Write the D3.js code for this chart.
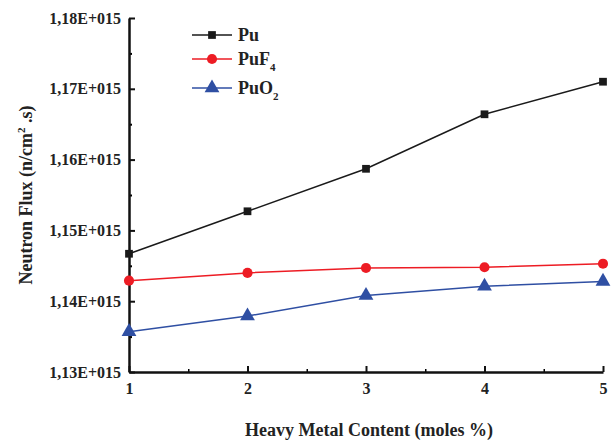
<!DOCTYPE html>
<html>
<head>
<meta charset="utf-8">
<script src="https://cdn.jsdelivr.net/npm/d3@7"></script>
<style>
  body { margin: 0; background: #fff; }
  text { font-family: "Liberation Serif", "Times New Roman", serif; font-weight: bold; }
</style>
</head>
<body>
<div id="chart"></div>
<script>
var contents = [1, 2, 3, 4, 5];
var puFlux   = [1.1467e15, 1.1527e15, 1.1587e15, 1.1664e15, 1.1710e15];
var puf4Flux = [1.1429e15, 1.1440e15, 1.1447e15, 1.1448e15, 1.1453e15];
var puo2Flux = [1.1357e15, 1.1379e15, 1.1408e15, 1.1421e15, 1.1428e15];
var yTicks = [1.13e15, 1.14e15, 1.15e15, 1.16e15, 1.17e15, 1.18e15];

var series = [
  {name: 'Pu', sub: '', values: puFlux, color: '#1a1a1a', symbol: d3.symbolSquare, size: 60},
  {name: 'PuF', sub: '4', values: puf4Flux, color: '#ed1c24', symbol: d3.symbolCircle, size: 80},
  {name: 'PuO', sub: '2', values: puo2Flux, color: '#2f4fa3', symbol: d3.symbolTriangle, size: 95}
];

var width = 614;
var height = 441;

var svg = d3.select('#chart')
            .append('svg')
            .attr('width', width)
            .attr('height', height);

var x = d3.scaleLinear().domain([1, 5]).range([129, 603]);
var y = d3.scaleLinear().domain([1.13e15, 1.18e15]).range([372, 18]);

function fmt(v) {
  return (v / 1e15).toFixed(2).replace('.', ',') + 'E+015';
}

// minor ticks
svg.append('g')
   .attr('transform', 'translate(129,0)')
   .call(d3.axisLeft(y).tickValues(d3.range(1.135e15, 1.18e15, 1e13)).tickSize(-3).tickFormat(''))
   .call(g => g.select('.domain').remove())
   .selectAll('line').attr('stroke-width', 2);

svg.append('g')
   .attr('transform', 'translate(0,372)')
   .call(d3.axisBottom(x).tickValues([1.5, 2.5, 3.5, 4.5]).tickSize(-3).tickFormat(''))
   .call(g => g.select('.domain').remove())
   .selectAll('line').attr('stroke-width', 1.5);

// major axes
var yAxis = svg.append('g')
   .attr('transform', 'translate(129,0)')
   .call(d3.axisLeft(y).tickValues(yTicks).tickSize(-6).tickSizeOuter(0).tickPadding(8).tickFormat(fmt));

var xAxis = svg.append('g')
   .attr('transform', 'translate(0,372)')
   .call(d3.axisBottom(x).tickValues(contents).tickSize(-6).tickSizeOuter(0).tickPadding(11).tickFormat(d3.format('d')));

[yAxis, xAxis].forEach(function(a) {
  a.select('.domain').attr('stroke-width', 2.5).attr('stroke', '#111');
  a.selectAll('.tick line').attr('stroke-width', 2).attr('stroke', '#111');
  a.selectAll('text').attr('font-size', 16).attr('fill', '#222');
});

// lines and markers
var line = d3.line()
             .x((d, i) => x(contents[i]))
             .y(d => y(d));

series.forEach(function(s) {
  svg.append('path')
     .attr('d', line(s.values))
     .attr('fill', 'none')
     .attr('stroke', s.color)
     .attr('stroke-width', 1.5);

  svg.selectAll(null)
     .data(s.values)
     .enter()
     .append('path')
     .attr('d', d3.symbol().type(s.symbol).size(s.size))
     .attr('transform', (d, i) => 'translate(' + x(contents[i]) + ',' + y(d) + ')')
     .attr('fill', s.color);
});

// legend
var legendY = [35, 59, 88];
series.forEach(function(s, i) {
  var g = svg.append('g').attr('transform', 'translate(192,' + legendY[i] + ')');
  g.append('line')
   .attr('x1', 0).attr('x2', 40)
   .attr('stroke', s.color).attr('stroke-width', 1.5);
  g.append('path')
   .attr('d', d3.symbol().type(s.symbol).size(s.size))
   .attr('transform', 'translate(20,0)')
   .attr('fill', s.color);
  var t = g.append('text')
   .attr('x', 46).attr('y', 6)
   .attr('font-size', 18).attr('fill', '#222')
   .text(s.name);
  if (s.sub) {
    t.append('tspan').attr('font-size', 11).attr('dy', 6).text(s.sub);
  }
});

// axis titles
svg.append('text')
   .attr('x', 369).attr('y', 436)
   .attr('text-anchor', 'middle')
   .attr('font-size', 18).attr('fill', '#222')
   .text('Heavy Metal Content (moles %)');

var yt = svg.append('text')
   .attr('transform', 'translate(32,195) rotate(-90)')
   .attr('text-anchor', 'middle')
   .attr('font-size', 18).attr('fill', '#222');
yt.append('tspan').text('Neutron Flux (n/cm');
yt.append('tspan').attr('font-size', 11).attr('dy', -7).text('2');
yt.append('tspan').attr('dy', 7).text(' .s)');
</script>
</body>
</html>
